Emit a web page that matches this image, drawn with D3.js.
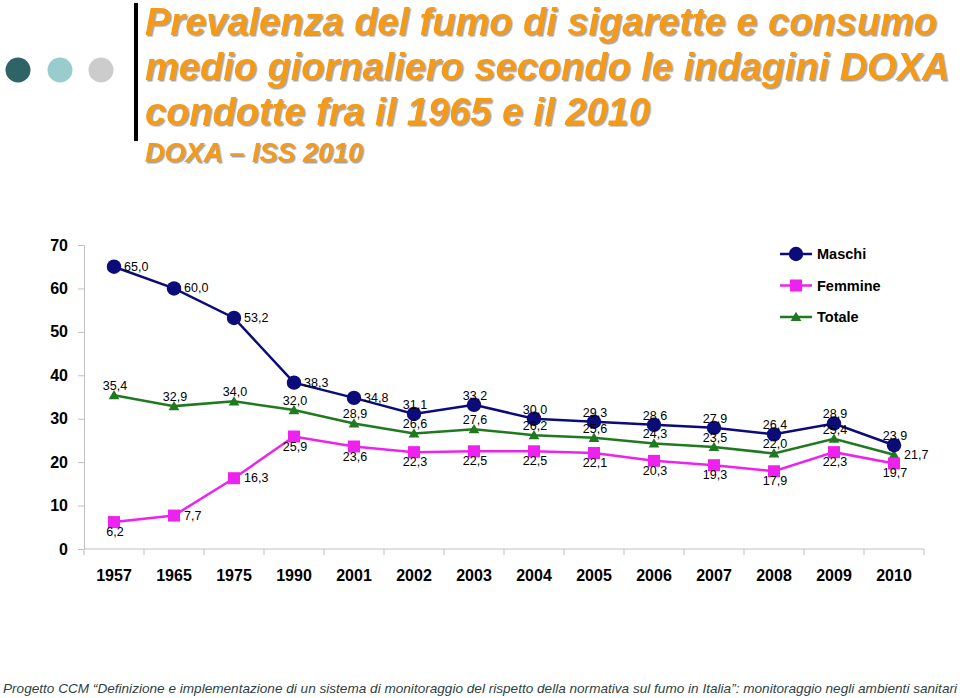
<!DOCTYPE html>
<html><head><meta charset="utf-8">
<script src="https://cdn.jsdelivr.net/npm/d3@7/dist/d3.min.js"></script>
<style>body{margin:0;background:#fff;} svg{display:block;font-family:Arial,"Liberation Sans",sans-serif;}</style>
</head><body>
<svg id="c" width="960" height="698"></svg>
<script>
const years = ["1957","1965","1975","1990","2001","2002","2003","2004","2005","2006","2007","2008","2009","2010"];
const maschi  = [65.0,60.0,53.2,38.3,34.8,31.1,33.2,30.0,29.3,28.6,27.9,26.4,28.9,23.9];
const femmine = [6.2,7.7,16.3,25.9,23.6,22.3,22.5,22.5,22.1,20.3,19.3,17.9,22.3,19.7];
const totale  = [35.4,32.9,34.0,32.0,28.9,26.6,27.6,26.2,25.6,24.3,23.5,22.0,25.4,21.7];
const yTicks = [0,10,20,30,40,50,60,70];
const seriesNames = ["Maschi","Femmine","Totale"];
// label placement: r = right, t = top, b = bottom
const maschiPos  = ["r","r","r","r","r","t","t","t","t","t","t","t","t","t"];
const femminePos = ["b","r","r","b","b","b","b","b","b","b","b","b","b","b"];
const totalePos  = ["t","t","t","t","t","t","t","t","t","t","t","t","t","r"];

const svg = d3.select("#c");
const fmt = v => v.toFixed(1).replace(".", ",");

const defs = svg.append("defs");
const f = defs.append("filter").attr("id","sh").attr("x","-5%").attr("y","-20%").attr("width","110%").attr("height","140%");
f.append("feDropShadow").attr("dx",1.5).attr("dy",1.5).attr("stdDeviation",0.6).attr("flood-color","#9a9a9a").attr("flood-opacity",0.9);

// decorative header
const dots = [["#2e6466",18],["#99cccc",60],["#cccccc",101]];
svg.selectAll("circle.dot").data(dots).join("circle").attr("class","dot")
  .attr("cx",d=>d[1]).attr("cy",70).attr("r",12.5).attr("fill",d=>d[0]);
svg.append("rect").attr("x",134).attr("y",3).attr("width",4).attr("height",138).attr("fill","#000");

const titleLines = ["Prevalenza del fumo di sigarette e consumo","medio giornaliero secondo le indagini DOXA","condotte fra il 1965 e il 2010"];
const tg = svg.append("g").attr("filter","url(#sh)");
titleLines.forEach((t,i)=>{
  tg.append("text").attr("x",145).attr("y",35 + i*45).text(t)
    .attr("font-size",38).attr("font-weight","bold").attr("font-style","italic").attr("fill","#f39a12");
});
tg.append("text").attr("x",145).attr("y",162).text("DOXA – ISS 2010")
  .attr("font-size",27).attr("font-weight","bold").attr("font-style","italic").attr("fill","#f39a12");

// chart
const x = d3.scaleBand().domain(years).range([84,924]);
const y = d3.scaleLinear().domain([0,70]).range([549,245]);
const cx = d => x(d) + x.bandwidth()/2;

const yAxis = svg.append("g").attr("transform","translate(84,0)")
  .call(d3.axisLeft(y).tickValues(yTicks).tickSize(6).tickPadding(10).tickFormat(d3.format("d")));
yAxis.select(".domain").attr("stroke","#c0c0c0");
yAxis.selectAll(".tick line").attr("stroke","#c0c0c0");
yAxis.selectAll("text").attr("font-size",16).attr("font-weight","bold").attr("fill","#000").attr("font-family","Arial");

const xAxis = svg.append("g").attr("transform","translate(0,549)")
  .call(d3.axisBottom(x).tickSize(0).tickPadding(21));
xAxis.select(".domain").attr("stroke","#c0c0c0").attr("d","M84,0H924");
xAxis.selectAll("text").attr("font-size",16).attr("font-weight","bold").attr("fill","#000").attr("font-family","Arial");
// tick marks at band boundaries
const bounds = years.map(d=>x(d)).concat([924]);
svg.append("g").selectAll("line").data(bounds).join("line")
  .attr("x1",d=>d).attr("x2",d=>d).attr("y1",549).attr("y2",555).attr("stroke","#c0c0c0");

const series = [
  {name:seriesNames[0], vals:maschi, pos:maschiPos, color:"#0b0b7a", shape:"circle"},
  {name:seriesNames[1], vals:femmine, pos:femminePos, color:"#ee22ee", shape:"square"},
  {name:seriesNames[2], vals:totale, pos:totalePos, color:"#1f7a1f", shape:"triangle"}
];
const line = d3.line().x((d,i)=>cx(years[i])).y(d=>y(d));

function drawMarker(g, shape, color, px, py){
  if(shape==="circle") g.append("circle").attr("cx",px).attr("cy",py).attr("r",7.2).attr("fill",color);
  else if(shape==="square") g.append("rect").attr("x",px-6).attr("y",py-6).attr("width",12).attr("height",12).attr("fill",color);
  else g.append("path").attr("d",d3.symbol(d3.symbolTriangle,50)()).attr("transform",`translate(${px},${py+1})`).attr("fill",color);
}

// draw order: Totale, Femmine, Maschi
[series[2],series[1],series[0]].forEach(s=>{
  const g = svg.append("g");
  g.append("path").datum(s.vals).attr("d",line).attr("fill","none").attr("stroke",s.color).attr("stroke-width",2.5);
  s.vals.forEach((v,i)=>drawMarker(g,s.shape,s.color,cx(years[i]),y(v)));
});
// labels
series.forEach(s=>{
  s.vals.forEach((v,i)=>{
    const px = cx(years[i]), py = y(v);
    const t = svg.append("text").text(fmt(v)).attr("font-size",12.5).attr("fill","#000").attr("font-family","Arial");
    if(s.pos[i]==="r") t.attr("x",px+10).attr("y",py+4);
    else if(s.pos[i]==="t") t.attr("x",px+1).attr("y",py-5).attr("text-anchor","middle");
    else t.attr("x",px+1).attr("y",py+14).attr("text-anchor","middle");
  });
});

// legend
series.forEach((s,i)=>{
  const ly = 254 + i*31.5;
  const g = svg.append("g");
  g.append("line").attr("x1",780).attr("x2",812).attr("y1",ly).attr("y2",ly).attr("stroke",s.color).attr("stroke-width",2.5);
  drawMarker(g,s.shape,s.color,796,ly);
  g.append("text").attr("x",817).attr("y",ly+5).text(s.name).attr("font-size",14.5).attr("font-weight","bold").attr("fill","#000");
});

// footer
svg.append("text").attr("x",3).attr("y",693)
  .text("Progetto CCM “Definizione e implementazione di un sistema di monitoraggio del rispetto della normativa sul fumo in Italia”: monitoraggio negli ambienti sanitari")
  .attr("font-size",13).attr("font-style","italic").attr("fill","#2f3f44")
  .attr("textLength",954).attr("lengthAdjust","spacingAndGlyphs");
</script>
</body></html>
